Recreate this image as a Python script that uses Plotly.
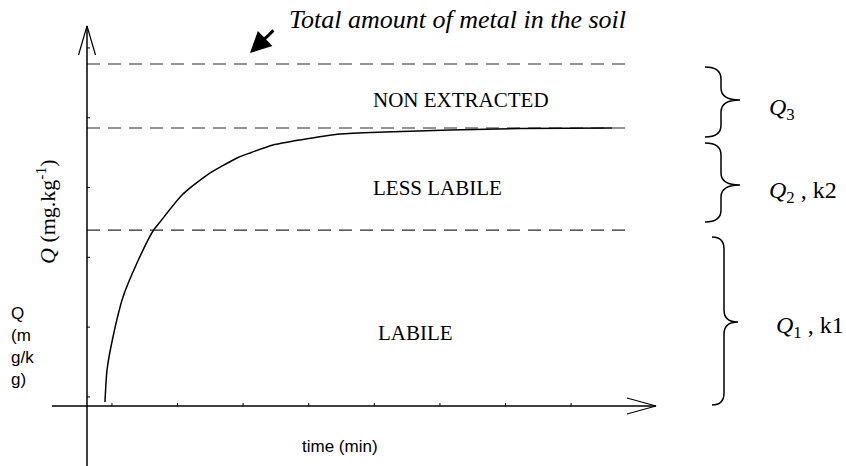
import plotly.graph_objects as go

# ---------------- data ----------------
time_min = [2.74, 3.05, 3.96, 5.49, 7.62, 10.06, 11.13, 14.48, 18.29, 22.87, 24.85,
            28.35, 32.47, 38.57, 45.43, 55.34, 66.01, 80.03]
q_curve = [0.57, 5.16, 9.89, 15.62, 20.49, 25.07, 26.36, 30.23, 33.09, 35.53, 36.25,
           37.39, 38.11, 38.97, 39.26, 39.54, 39.76, 39.83]

level_names = ["total", "q3_bottom", "q1_top"]
level_values = [49.0, 39.83, 25.21]
level_end_time = 82.5

x_ticks = [3.8, 13.8, 23.8, 33.8, 43.8, 53.8, 63.8, 73.8]
y_ticks = [1.3, 11.3, 21.3, 31.3, 41.3, 51.3]

region_labels = ["NON EXTRACTED", "LESS LABILE", "LABILE"]

# ---------------- geometry ----------------
W, H = 846, 466
X0_PX, Y0_PX = 87, 406      # origin in pixels
SX, SY = 6.56, 6.98         # pixels per unit


def tx(px):
    return (px - X0_PX) / SX


def qy(py):
    return (Y0_PX - py) / SY


def xp(px):
    return px / W


def yp(py):
    return 1 - py / H


fig = go.Figure()

# dashed levels
for v in level_values:
    fig.add_trace(go.Scatter(x=[0, level_end_time], y=[v, v], mode="lines",
                             line=dict(color="#2a2a2a", width=1.2, dash="13px,8px"),
                             hoverinfo="skip"))

# kinetic curve
fig.add_trace(go.Scatter(x=time_min, y=q_curve, mode="lines",
                         line=dict(color="black", width=1.5, shape="spline", smoothing=0.6),
                         hoverinfo="skip"))

# axes lines
x_axis_start, x_axis_end = tx(52), tx(656)
y_axis_bottom, y_axis_top = qy(H), qy(26)
fig.add_trace(go.Scatter(x=[x_axis_start, x_axis_end], y=[0, 0], mode="lines",
                         line=dict(color="black", width=1.5), hoverinfo="skip"))
fig.add_trace(go.Scatter(x=[0, 0], y=[y_axis_bottom, y_axis_top], mode="lines",
                         line=dict(color="black", width=1.5), hoverinfo="skip"))
# open arrow heads
fig.add_trace(go.Scatter(x=[tx(627), x_axis_end, tx(627)], y=[8 / SY, 0, -8 / SY],
                         mode="lines", line=dict(color="black", width=1.2), hoverinfo="skip"))
fig.add_trace(go.Scatter(x=[-8.5 / SX, 0, 8.5 / SX], y=[qy(55), y_axis_top, qy(55)],
                         mode="lines", line=dict(color="black", width=1.2), hoverinfo="skip"))

# tick marks
tx_x, tx_y = [], []
for t in x_ticks:
    tx_x += [t, t, None]
    tx_y += [0, 3 / SY, None]
for q in y_ticks:
    tx_x += [0, 3 / SX, None]
    tx_y += [q, q, None]
fig.add_trace(go.Scatter(x=tx_x, y=tx_y, mode="lines",
                         line=dict(color="black", width=1), hoverinfo="skip"))

# braces
def brace(x0, xm, xt, y0, ym, y1, r=12):
    pts = [
        f"M{tx(x0)},{qy(y0)}",
        f"Q{tx(xm)},{qy(y0)} {tx(xm)},{qy(y0 + r)}",
        f"L{tx(xm)},{qy(ym - r)}",
        f"Q{tx(xm)},{qy(ym)} {tx(xt)},{qy(ym)}",
        f"Q{tx(xm)},{qy(ym)} {tx(xm)},{qy(ym + r)}",
        f"L{tx(xm)},{qy(y1 - r)}",
        f"Q{tx(xm)},{qy(y1)} {tx(x0)},{qy(y1)}",
    ]
    return " ".join(pts)


shapes = [
    dict(type="path", path=brace(705, 721, 740, 67, 100, 137), xref="x", yref="y",
         line=dict(color="black", width=1.5)),
    dict(type="path", path=brace(705, 721, 740, 143, 185, 222), xref="x", yref="y",
         line=dict(color="black", width=1.5)),
    dict(type="path", path=brace(712, 724, 738, 237, 322, 405), xref="x", yref="y",
         line=dict(color="black", width=1.5)),
]

serif = "Liberation Serif, Times New Roman, serif"
sans = "Liberation Sans, Arial, sans-serif"


def label(text, px, py, size, family, xanchor="left", **kw):
    return dict(text=text, x=xp(px), y=yp(py), xref="paper", yref="paper",
                xanchor=xanchor, yanchor="middle", showarrow=False,
                font=dict(family=family, size=size, color="black"), **kw)


annotations = [
    label("<i>Total amount of metal in the soil</i>", 287, 20, 26, serif),
    dict(text="", x=xp(250), y=yp(53), xref="paper", yref="paper", ax=25, ay=-24,
         showarrow=True, arrowhead=2, arrowsize=1.4, arrowwidth=3, arrowcolor="black"),
    label(region_labels[0], 371, 100, 21, serif),
    label(region_labels[1], 371, 188, 21, serif),
    label(region_labels[2], 376, 333, 21, serif),
    label("<i>Q</i> (mg.kg<sup>-1</sup>)", 46, 212, 22, serif, xanchor="center", textangle=-90),
    label("Q<br>(m<br>g/k<br>g)", 9, 346, 17, sans, align="left"),
    label("time (min)", 340, 446, 17, sans, xanchor="center"),
    label("<i>Q</i><sub>3</sub>", 767, 109, 24, serif),
    label("<i>Q</i><sub>2</sub> , k2", 767, 192, 24, serif),
    label("<i>Q</i><sub>1</sub> , k1", 774, 327, 24, serif),
]

fig.update_layout(
    width=W, height=H,
    margin=dict(l=0, r=0, t=0, b=0),
    paper_bgcolor="white", plot_bgcolor="white",
    showlegend=False,
    xaxis=dict(range=[tx(0), tx(W)], visible=False, fixedrange=True),
    yaxis=dict(range=[qy(H), qy(0)], visible=False, fixedrange=True),
    shapes=shapes,
    annotations=annotations,
)

fig.write_html("out.html", config={"displayModeBar": False},
               post_script="document.body.style.margin='0px';")
